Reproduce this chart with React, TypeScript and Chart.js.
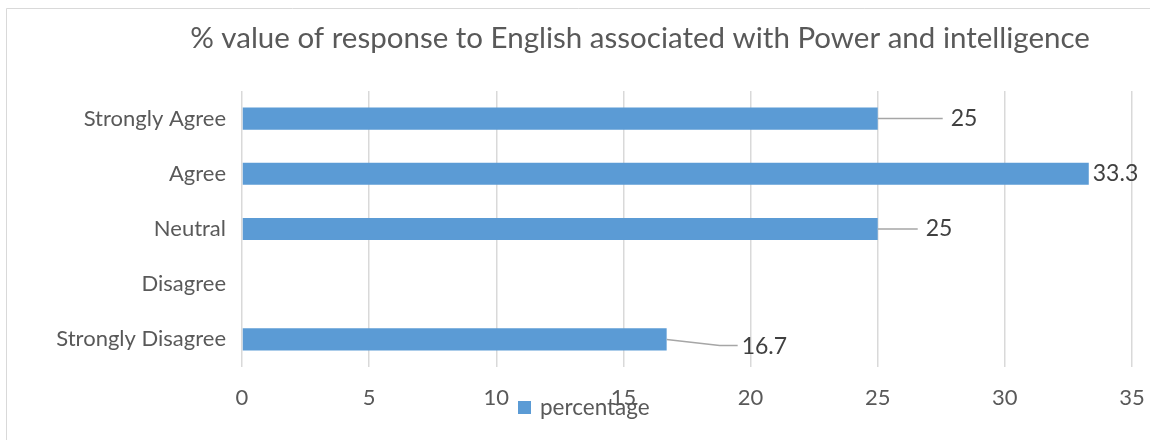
import React, { useEffect, useRef } from "react";
import { Chart, registerables } from "chart.js";

Chart.register(...registerables);

const TITLE = "% value of response to English associated with Power and intelligence";
const categories = ["Strongly Agree", "Agree", "Neutral", "Disagree", "Strongly Disagree"];
const seriesName = "percentage";
const percentages: (number | null)[] = [25, 33.3, 25, null, 16.7];
const xTicks = [0, 5, 10, 15, 20, 25, 30, 35];

// leader-line label offsets (style): [dx, dy] from bar end to label start
const labelOffsets: [number, number][] = [[73, 0], [4, 0], [48, 0], [0, 0], [75, 7]];

const FONT = "Lato, 'Open Sans', sans-serif";
const TXT = "#595959";
const BAR = "#5B9BD5";

const decorPlugin = {
  id: "decor",
  beforeDraw(chart: any) {
    const ctx = chart.ctx;
    ctx.save();
    ctx.fillStyle = "#ffffff";
    ctx.fillRect(0, 0, chart.width, chart.height);
    ctx.strokeStyle = "#D9D9D9";
    ctx.lineWidth = 1;
    ctx.beginPath();
    ctx.moveTo(6.5, chart.height);
    ctx.lineTo(6.5, 8.5);
    ctx.lineTo(chart.width, 8.5);
    ctx.stroke();
    ctx.restore();
  },
  afterDraw(chart: any) {
    const ctx = chart.ctx;
    ctx.save();
    // title
    ctx.fillStyle = TXT;
    ctx.font = `29.5px ${FONT}`;
    ctx.textAlign = "center";
    ctx.textBaseline = "middle";
    ctx.fillText(TITLE, 640, 38);

    // data labels with leader lines
    const meta = chart.getDatasetMeta(0);
    const ds = chart.data.datasets[0];
    ctx.font = `23px ${FONT}`;
    ctx.textAlign = "left";
    meta.data.forEach((el: any, i: number) => {
      const v = ds.data[i];
      if (v === null || v === undefined) return;
      const [dx, dy] = labelOffsets[i];
      const x0 = el.x;
      const y0 = el.y;
      const lx = x0 + dx;
      const ly = y0 + dy;
      if (dx > 10) {
        ctx.strokeStyle = "#A6A6A6";
        ctx.lineWidth = 1.5;
        ctx.beginPath();
        ctx.moveTo(x0, y0);
        if (dy !== 0) {
          ctx.lineTo(lx - 22, ly - 1);
          ctx.lineTo(lx - 4, ly - 1);
        } else {
          ctx.lineTo(lx - 8, ly);
        }
        ctx.stroke();
      }
      ctx.fillStyle = "#404040";
      ctx.fillText(String(v), lx, ly);
    });

    // legend
    const lx = 518;
    const ly = 408;
    ctx.fillStyle = BAR;
    ctx.fillRect(lx, ly - 7, 13, 13);
    ctx.fillStyle = TXT;
    ctx.font = `22.5px ${FONT}`;
    ctx.textBaseline = "middle";
    ctx.fillText(ds.label, lx + 22, ly);
    ctx.restore();
  },
};

export default function App() {
  const ref = useRef<HTMLCanvasElement>(null);
  useEffect(() => {
    if (!ref.current) return;
    const chart = new Chart(ref.current, {
      type: "bar",
      data: {
        labels: categories,
        datasets: [
          {
            label: seriesName,
            data: percentages,
            backgroundColor: BAR,
            barPercentage: 0.8,
            categoryPercentage: 0.5,
          },
        ],
      },
      options: {
        indexAxis: "y",
        animation: false,
        responsive: false,
        layout: { padding: { top: 91, right: 18, bottom: 0, left: 0 } },
        plugins: {
          legend: { display: false },
          title: { display: false },
          tooltip: { enabled: false },
        },
        scales: {
          x: {
            min: 0,
            max: 35,
            afterBuildTicks: (s: any) => {
              s.ticks = xTicks.map((v) => ({ value: v }));
            },
            afterFit: (s: any) => {
              s.height = 73;
              s.paddingRight = 0;
              s.paddingLeft = 0;
            },
            grid: { color: "#D9D9D9", lineWidth: 1.5, drawTicks: false },
            border: { display: false },
            ticks: { color: TXT, font: { family: FONT, size: 22 }, padding: 18 },
          },
          y: {
            afterFit: (s: any) => {
              s.width = 242;
            },
            grid: { display: false, drawTicks: false },
            border: { display: false },
            ticks: { color: TXT, font: { family: FONT, size: 22 }, padding: 16 },
          },
        },
      },
      plugins: [decorPlugin],
    });
    return () => chart.destroy();
  }, []);
  return (
    <div style={{ position: "absolute", left: 0, top: 0, width: 1150, height: 440 }}>
      <canvas ref={ref} width={1150} height={440} />
    </div>
  );
}
